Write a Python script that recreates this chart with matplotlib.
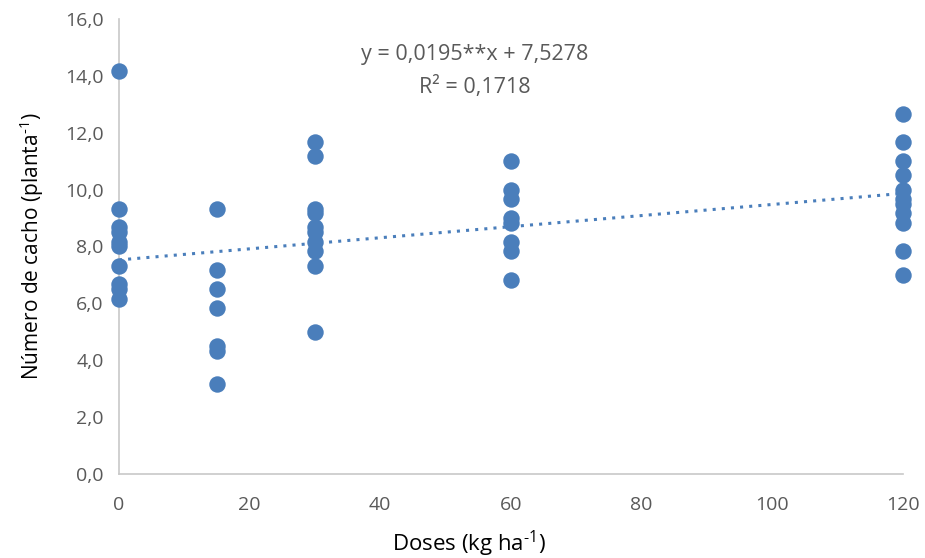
import matplotlib.pyplot as plt
import numpy as np

# Doses (kg/ha) and observed number of bunches per plant
dose_0 = [14.17, 9.33, 8.67, 8.5, 8.17, 8.0, 7.33, 6.67, 6.5, 6.17]
dose_15 = [9.33, 7.17, 6.5, 5.83, 4.5, 4.33, 3.17]
dose_30 = [11.67, 11.17, 9.33, 9.17, 8.67, 8.5, 8.17, 7.83, 7.33, 5.0]
dose_60 = [11.0, 10.0, 9.67, 9.0, 8.83, 8.17, 7.83, 6.83]
dose_120 = [12.67, 11.67, 11.0, 10.5, 10.0, 9.67, 9.5, 9.17, 8.83, 7.83, 7.0]

doses = [0, 15, 30, 60, 120]
groups = [dose_0, dose_15, dose_30, dose_60, dose_120]

# Trendline as reported on the chart
slope = 0.0195
intercept = 7.5278
eq_label = "y = 0,0195**x + 7,5278"
r2_label = "R² = 0,1718"

x_ticks = [0, 20, 40, 60, 80, 100, 120]
y_ticks = [0, 2, 4, 6, 8, 10, 12, 14, 16]

plt.rcParams['font.family'] = ['Open Sans', 'DejaVu Sans']
plt.rcParams['mathtext.fontset'] = 'custom'
plt.rcParams['mathtext.rm'] = 'Open Sans'
plt.rcParams['mathtext.default'] = 'regular'

blue = "#4a7ebb"
grey = "#595959"

fig = plt.figure(figsize=(9.25, 5.58), dpi=100)
ax = fig.add_axes([0.1286, 0.1505, 0.8475, 0.8155])

xs = np.concatenate([[d] * len(g) for d, g in zip(doses, groups)])
ys = np.concatenate(groups)
ax.scatter(xs, ys, s=140, color=blue, zorder=3, clip_on=False, linewidths=0)

# dotted linear trend
xl = np.array([0, 120])
ax.plot(xl, slope * xl + intercept, linestyle=(0, (1, 2)), color=blue, linewidth=2.2, zorder=2)

ax.text(54.5, 14.75, eq_label, ha="center", va="center", fontsize=15.5, color=grey)
ax.text(54.5, 13.6, r2_label, ha="center", va="center", fontsize=15.5, color=grey)

ax.set_xlim(0, 120)
ax.set_ylim(0, 16)
ax.set_xticks(x_ticks)
ax.set_yticks(y_ticks)
ax.set_yticklabels([f"{v:.1f}".replace(".", ",") for v in y_ticks])
ax.tick_params(length=0, labelsize=14, colors=grey)
ax.tick_params(axis="y", pad=11)
ax.tick_params(axis="x", pad=16)

for side in ["top", "right"]:
    ax.spines[side].set_visible(False)
for side in ["left", "bottom"]:
    ax.spines[side].set_color("#c8c8c8")
    ax.spines[side].set_linewidth(1.2)

ax.set_xlabel("Doses (kg ha$^{\u20101}$)", fontsize=16, color="black")
ax.xaxis.set_label_coords(0.447, -0.12)
ax.set_ylabel("Número de cacho (planta$^{\u20101}$)", fontsize=15, color="black", labelpad=14)

fig.savefig("out.png", dpi=100)
plt.close(fig)
